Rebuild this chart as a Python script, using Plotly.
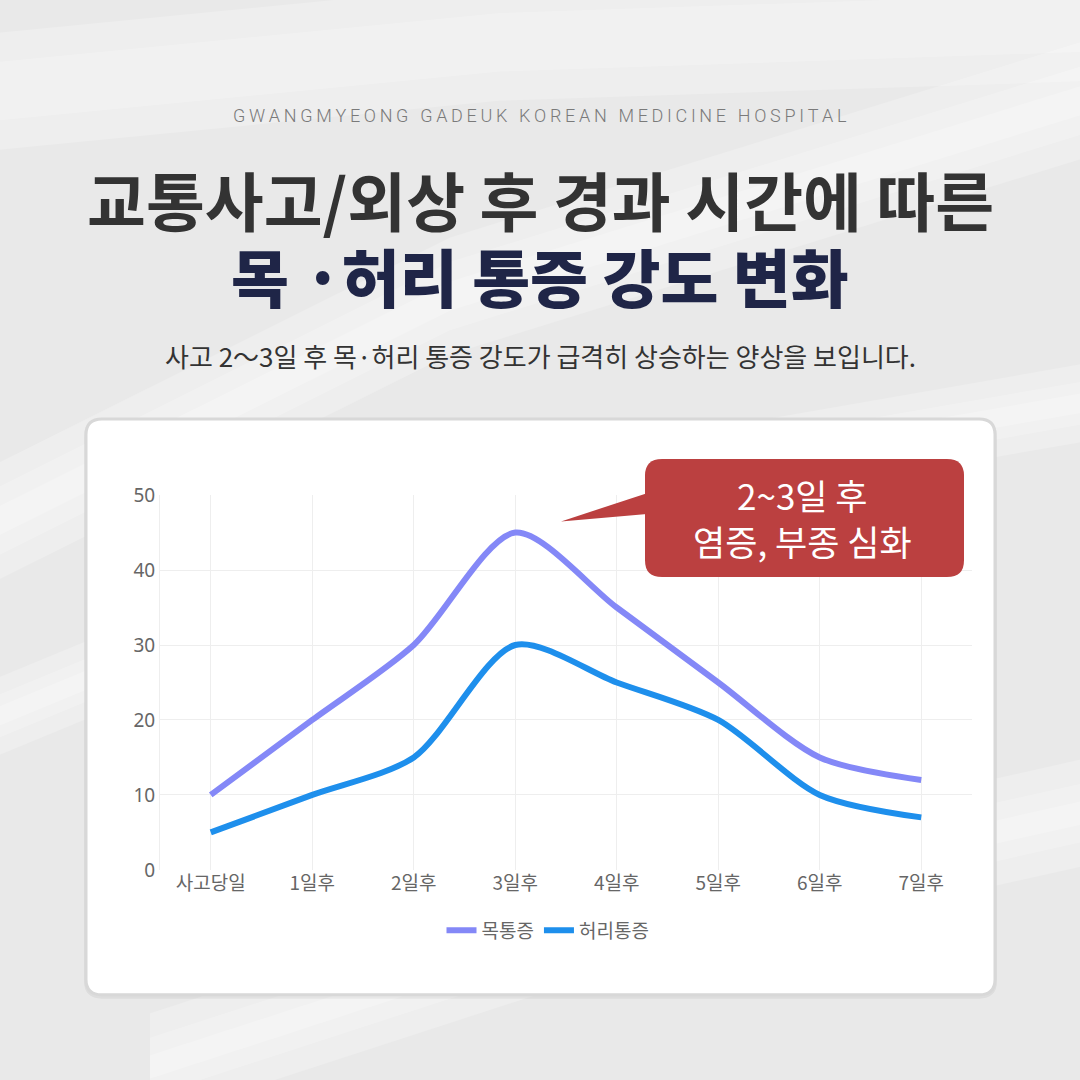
import plotly.graph_objects as go

W = H = 1080

days = ["사고당일", "1일후", "2일후", "3일후", "4일후", "5일후", "6일후", "7일후"]
neck_pain = [10, 20, 30, 45, 35, 25, 15, 12]
back_pain = [5, 10, 15, 30, 25, 20, 10, 7]
series_names = ["목통증", "허리통증"]
series_colors = ["#8488f7", "#1e8fec"]

header_en = "GWANGMYEONG GADEUK KOREAN MEDICINE HOSPITAL"
title_1 = "교통사고/외상 후 경과 시간에 따른"
title_2 = "목 ·허리 통증 강도 변화"
subtitle = "사고 2～3일 후 목·허리 통증 강도가 급격히 상승하는 양상을 보입니다."
callout = "2~3일 후<br>염증, 부종 심화"

KR = "Noto Sans CJK KR"


def px(x):
    return x / W


def py(y):
    return 1 - y / H


def rrect(x0, y0, x1, y1, r):
    return (
        f"M{px(x0 + r)},{py(y0)} L{px(x1 - r)},{py(y0)} "
        f"Q{px(x1)},{py(y0)} {px(x1)},{py(y0 + r)} "
        f"L{px(x1)},{py(y1 - r)} Q{px(x1)},{py(y1)} {px(x1 - r)},{py(y1)} "
        f"L{px(x0 + r)},{py(y1)} Q{px(x0)},{py(y1)} {px(x0)},{py(y1 - r)} "
        f"L{px(x0)},{py(y0 + r)} Q{px(x0)},{py(y0)} {px(x0 + r)},{py(y0)} Z"
    )


def ppath(points):
    return "M" + " L".join(f"{px(a)},{py(b)}" for a, b in points) + " Z"


def spaced(s):
    return "\u2009".join(list(s))


fig = go.Figure()
fig.add_trace(go.Scatter(x=days, y=neck_pain, name=series_names[0], mode="lines",
                         line=dict(color=series_colors[0], width=6, shape="spline", smoothing=0.8)))
fig.add_trace(go.Scatter(x=days, y=back_pain, name=series_names[1], mode="lines",
                         line=dict(color=series_colors[1], width=6, shape="spline", smoothing=0.8)))

shapes = []
bands = [
    ([(0, 520), (450, 290), (1080, 90)], [60, 35, 15]),
    ([(0, 720), (520, 500), (1080, 400)], [40, 22, 10]),
    ([(150, 1080), (600, 930), (1080, 820)], [55, 30, 12]),
    ([(0, 80), (500, 30), (1080, 10)], [60, 30]),
]
for centre, widths in bands:
    for w in widths:
        top = [(x, y - w) for x, y in centre]
        bot = [(x, y + w) for x, y in reversed(centre)]
        shapes.append(dict(type="path", xref="paper", yref="paper", layer="below",
                           path=ppath(top + bot), fillcolor="rgba(255,255,255,0.22)",
                           line=dict(width=0)))
shapes.append(dict(type="path", xref="paper", yref="paper", layer="below",
                   path=rrect(84, 416, 997, 1010, 18), fillcolor="rgba(0,0,0,0.05)",
                   line=dict(width=0)))
shapes.append(dict(type="path", xref="paper", yref="paper", layer="below",
                   path=rrect(86, 416, 995, 1006, 16), fillcolor="white",
                   line=dict(color="#d8d8d8", width=3)))
shapes.append(dict(type="path", xref="paper", yref="paper", layer="above",
                   path=ppath([(650, 491), (561, 521), (650, 513)]),
                   fillcolor="#bb4040", line=dict(width=0)))
shapes.append(dict(type="path", xref="paper", yref="paper", layer="above",
                   path=rrect(645, 457, 964, 578, 17), fillcolor="#bb4040",
                   line=dict(width=0)))


def ann(text, x, y, font, **kw):
    return dict(text=text, x=px(x), y=py(y), xref="paper", yref="paper",
                xanchor="center", yanchor="middle", showarrow=False, font=font, **kw)


annotations = [
    ann(spaced(header_en), 540, 105, dict(family="Roboto", size=18, color="#7a7a7a", weight=300)),
    ann(title_1, 540, 190, dict(family=KR, size=64, color="#333333", weight=700)),
    ann(title_2, 540, 268, dict(family=KR, size=63, color="#1f2547", weight=900)),
    ann(subtitle, 540, 351, dict(family=KR, size=26, color="#333333")),
    ann(callout, 802, 517, dict(family=KR, size=35, color="white", weight=400), align="center"),
]

fig.update_layout(
    width=W, height=H,
    margin=dict(l=0, r=0, t=0, b=0),
    paper_bgcolor="#e9e9e9",
    plot_bgcolor="rgba(0,0,0,0)",
    shapes=shapes,
    annotations=annotations,
    showlegend=True,
    legend=dict(orientation="h", x=px(548), xanchor="center", y=py(940), yanchor="middle",
                font=dict(family=KR, size=19, color="#666666"),
                bgcolor="rgba(0,0,0,0)", itemwidth=30, tracegroupgap=0),
    xaxis=dict(domain=[px(160), px(972)], type="category", range=[-0.5, 7.5],
               showgrid=True, gridcolor="#eeeeee", gridwidth=1,
               showline=False, zeroline=False, ticks="",
               tickfont=dict(family=KR, size=19, color="#666666")),
    yaxis=dict(domain=[py(878), py(494)], range=[0, 50], dtick=10,
               showgrid=True, gridcolor="#eeeeee", gridwidth=1,
               showline=True, linecolor="#eeeeee", linewidth=1,
               zeroline=False, ticks="",
               tickfont=dict(family="Noto Sans", size=19, color="#666666")),
)

fig.write_html("out.html", config={"displayModeBar": False},
               post_script="document.body.style.margin='0';")
